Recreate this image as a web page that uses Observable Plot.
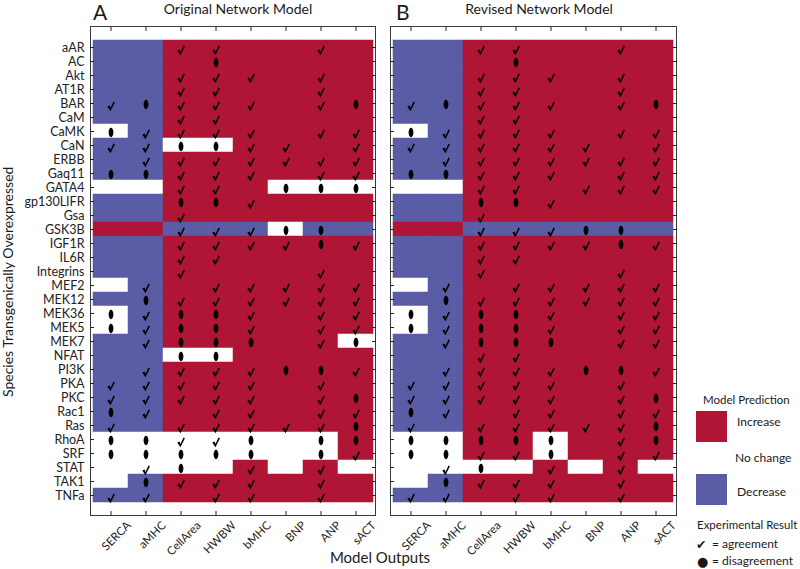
<!DOCTYPE html>
<html><head><meta charset="utf-8">
<script src="https://cdn.jsdelivr.net/npm/d3@7"></script>
<script src="https://cdn.jsdelivr.net/npm/@observablehq/plot@0.6"></script>
<style>
body{margin:0;background:#fff;font-family:Lato,sans-serif;}
#wrap{position:relative;width:800px;height:569px;overflow:hidden;background:#fff;}
.abs{position:absolute;white-space:nowrap;color:#1a1a1a;line-height:1;}
</style></head><body>
<div id="wrap">
  <div id="pa" class="abs" style="left:0;top:0"></div>
  <div id="pb" class="abs" style="left:380px;top:0"></div>
</div>
<script>
// ---------- data ----------
const species = ["aAR","AC","Akt","AT1R","BAR","CaM","CaMK","CaN","ERBB","Gaq11","GATA4","gp130LIFR","Gsa","GSK3B","IGF1R","IL6R","Integrins","MEF2","MEK12","MEK36","MEK5","MEK7","NFAT","PI3K","PKA","PKC","Rac1","Ras","RhoA","SRF","STAT","TAK1","TNFa"];
const outputs = ["SERCA","aMHC","CellArea","HWBW","bMHC","BNP","ANP","sACT"];
const predictionLabels = {I: "Increase", N: "No change", D: "Decrease"};
// model prediction per species (one letter per output): I = increase, N = no change, D = decrease
const predictionOriginal = [
 "DDIIIIII","DDIIIIII","DDIIIIII","DDIIIIII","DDIIIIII","DDIIIIII","NDIIIIII","DDNNIIII",
 "DDIIIIII","DDIIIIII","NNIIINNN","DDIIIIII","DDIIIIII","IIDDDNDD","DDIIIIII","DDIIIIII",
 "DDIIIIII","NDIIIIII","DDIIIIII","NDIIIIII","NDIIIIII","DDIIIIIN","DDNNIIII","DDIIIIII",
 "DDIIIIII","DDIIIIII","DDIIIIII","DDIIIIII","NNNNNNNI","NNNNNNNI","NNNNININ","NDIIIIII","DDIIIIII"];
const predictionRevised = [
 "DDIIIIII","DDIIIIII","DDIIIIII","DDIIIIII","DDIIIIII","DDIIIIII","NDIIIIII","DDIIIIII",
 "DDIIIIII","DDIIIIII","NNIIIIII","DDIIIIII","DDIIIIII","IIDDDDDD","DDIIIIII","DDIIIIII",
 "DDIIIIII","NDIIIIII","DDIIIIII","NDIIIIII","NDIIIIII","DDIIIIII","DDIIIIII","DDIIIIII",
 "DDIIIIII","DDIIIIII","DDIIIIII","DDIIIIII","NNIINIII","NNIINIII","NNNNININ","NDIIIIII","DDIIIIII"];
// experimental result: A = agreement, X = disagreement, - = no data
const resultOriginal = [
 "--AA--A-","---X----","--AAA-A-","--AA--A-","AXAAA-AX","--AA----","XAAAA-AA","AAXXAA-A",
 "-AAAAAAA","XXAAA-AA","--AA-XXX","--XXA---","--A-----","--AAAXX-","--AAAAXA","--AA----",
 "--A---A-","-A-AAAAA","-XAAAAAA","XAXXA-AA","XAXXA-AA","-AXXX-AX","--XX----","-AAAAXXA",
 "AAAAA-A-","AAAAA-AX","XA-AA-AA","A-AAAAAX","XXAAX-XX","XXXXX-XA","-AX-A-A-","-XAAA-A-","AA-AA-A-"];
const resultRevised = [
 "--AA--A-","---X----","--AAA-A-","--AA--A-","AXAAA-AX","--AA----","XAAAA-AA","AAAAAA-A",
 "-AAAAAAA","XXAAA-AA","--AA-AAA","--XXA---","--A-----","--AAAXX-","--AAAAXA","--AA----",
 "--A---A-","-A-AAAAA","-XAAAAAA","XAXXA-AA","XAXXA-AA","-AXXX-AA","--AA----","-AAAAXXA",
 "AAAAA-A-","AAAAA-AX","XA-AA-AA","A-AAAAAX","XXXXX-AX","XXAAX-AA","-AX-A-A-","-XAAA-A-","AA-AA-A-"];

// ---------- styles ----------
const RED = "#B01535", BLUE = "#5A5CA5", INK = "#222";

const checkSymbol = {draw(c) {
  const s = 3.0, k = 1.12;
  const p = [[-3.3, 0.0], [-1.2, -1.0], [-0.4, 1.4], [2.2, -4.5], [3.5, -3.9], [-0.5, 4.3]];
  p.forEach(([x, y], i) => i ? c.lineTo(x * k, y * k + s) : c.moveTo(x * k, y * k + s));
  c.closePath();
}};
const ellipseSymbol = {draw(c) {
  const rx = 2.4, ry = 4.7, k = 0.5523, oy = 1;
  c.moveTo(rx, oy);
  c.bezierCurveTo(rx, oy + ry*k, rx*k, oy + ry, 0, oy + ry);
  c.bezierCurveTo(-rx*k, oy + ry, -rx, oy + ry*k, -rx, oy);
  c.bezierCurveTo(-rx, oy - ry*k, -rx*k, oy - ry, 0, oy - ry);
  c.bezierCurveTo(rx*k, oy - ry, rx, oy - ry*k, rx, oy);
  c.closePath();
}};

function table(pred, res) {
  return species.flatMap((sp, i) => outputs.map((out, j) => ({
    sp, out, pred: predictionLabels[pred[i][j]], res: res[i][j]
  })));
}

function panel(pred, res, showLabels, width, marginLeft, marginRight) {
  const data = table(pred, res);
  return Plot.plot({
    width, height: 569,
    marginLeft, marginRight, marginTop: 26, marginBottom: 54,
    style: {fontFamily: "Lato, sans-serif", fontSize: "12px", color: INK, background: "transparent"},
    x: {domain: outputs, padding: 0, label: null},
    y: {domain: species, padding: 0, label: null},
    color: {domain: ["Increase","No change","Decrease"], range: [RED, "#ffffff", BLUE]},
    marks: [
      Plot.cell(data, {x: "out", y: "sp", fill: "pred", stroke: "pred", strokeWidth: 0.5}),
      Plot.dot(data.filter(d => d.res === "A"), {x: "out", y: "sp", symbol: checkSymbol, fill: "#000", stroke: "none"}),
      Plot.dot(data.filter(d => d.res === "X"), {x: "out", y: "sp", symbol: ellipseSymbol, fill: "#000", stroke: "none"}),
      Plot.frame({stroke: "#3a3a3a", strokeWidth: 1}),
      Plot.axisY({anchor: "left", tickSize: -4, fill: "none", stroke: INK, label: null}),
      Plot.axisY({anchor: "right", tickSize: -4, fill: "none", stroke: INK, label: null}),
      Plot.axisX({anchor: "top", tickSize: -4, fill: "none", stroke: INK, label: null}),
      Plot.axisX({anchor: "bottom", tickSize: -4, fill: "none", stroke: INK, label: null}),
      showLabels ? Plot.axisY({anchor: "left", tickSize: 0, tickPadding: 6, stroke: "none", fill: INK, fontSize: 12.5, label: null}) : null,
      Plot.axisX({anchor: "bottom", tickSize: 0, tickPadding: 8, tickRotate: -45, dx: 18, stroke: "none", fill: INK, fontSize: 11.5, label: null})
    ]
  });
}

document.getElementById("pa").append(panel(predictionOriginal, resultOriginal, true, 380, 90, 5));
document.getElementById("pb").append(panel(predictionRevised, resultRevised, false, 300, 10, 4));

// ---------- titles, axis titles, legend ----------
const wrap = document.getElementById("wrap");
function addText(txt, x, base, fs, anchor = "start", css = "") {
  const d = document.createElement("div");
  d.className = "abs";
  d.textContent = txt;
  d.style.cssText += `font-size:${fs}px;left:${x}px;top:${base - 0.887 * fs}px;` + css;
  if (anchor === "middle") d.style.transform = "translateX(-50%)";
  wrap.append(d);
  return d;
}
addText("A", 93, 20, 21);
addText("Original Network Model", 238, 14, 14, "middle");
addText("B", 396, 20, 21);
addText("Revised Network Model", 539, 14, 14, "middle");
addText("Model Outputs", 380, 563, 15, "middle");
// vertical axis title (reads bottom to top)
const yt = document.createElement("div");
yt.className = "abs";
yt.textContent = "Species Transgenically Overexpressed";
yt.style.cssText += "font-size:14px;line-height:16px;left:0px;top:160px;height:244px;width:16px;writing-mode:vertical-rl;transform:rotate(180deg);text-align:center;";
wrap.append(yt);

// legend
addText("Model Prediction", 703, 404, 11.5);
function swatch(color, top) {
  const s = document.createElement("div");
  s.className = "abs";
  s.style.cssText += `left:696px;top:${top}px;width:31px;height:31px;background:${color};`;
  wrap.append(s);
}
swatch(RED, 411);
addText("Increase", 737, 427, 12);
addText("No change", 735, 463, 12);
swatch(BLUE, 474);
addText("Decrease", 737, 497, 12);
addText("Experimental Result", 697, 529, 11.5);
function symbolText(ch, x, top, fs) {
  const d = document.createElement("div");
  d.className = "abs";
  d.textContent = ch;
  d.style.cssText += `font-family:'DejaVu Sans';font-size:${fs}px;line-height:${Math.round(fs*1.4)}px;left:${x}px;top:${top}px;`;
  wrap.append(d);
}
symbolText("\u2714", 696, 536, 12.5);
addText("= agreement", 712, 549, 12);
symbolText("\u25CF", 697, 553, 13);
addText("= disagreement", 712, 566, 12);
</script>
</body></html>
